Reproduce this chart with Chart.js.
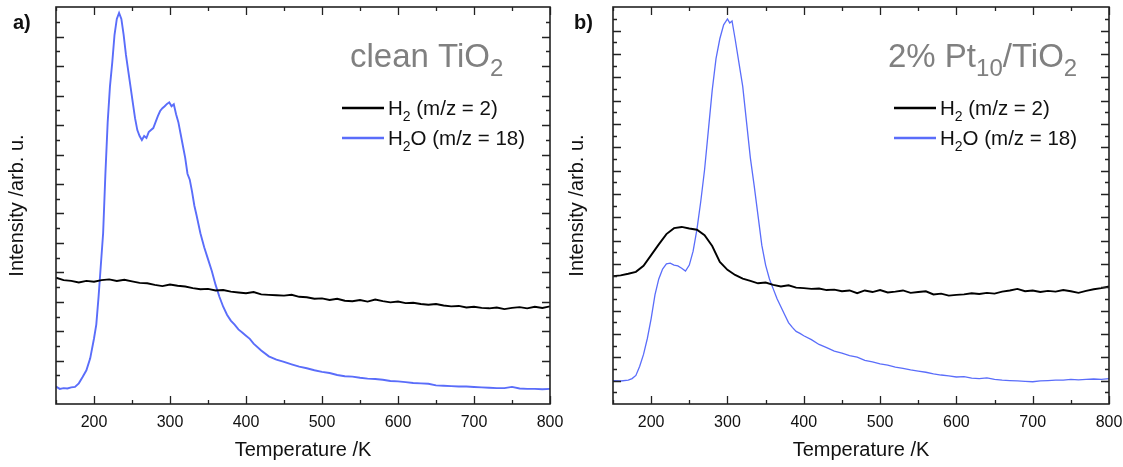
<!DOCTYPE html>
<html>
<head>
<meta charset="utf-8">
<script src="https://cdn.jsdelivr.net/npm/chart.js@4.4.1/dist/chart.umd.min.js"></script>
<style>
  html, body { margin: 0; padding: 0; background: #fff; }
  #wrap { position: relative; width: 1123px; height: 467px; }
  .panel { position: absolute; top: 0; height: 467px; }
</style>
</head>
<body>
<div id="wrap">
  <div class="panel" style="left:0;width:575px"><canvas id="chart-a"></canvas></div>
  <div class="panel" style="left:561px;width:562px"><canvas id="chart-b"></canvas></div>
</div>
<script>
// temperatures (K) for the H2 traces, 10 K apart
const temps10 = [
  150, 160, 170, 180, 190, 200, 210, 220, 230, 240,
  250, 260, 270, 280, 290, 300, 310, 320, 330, 340,
  350, 360, 370, 380, 390, 400, 410, 420, 430, 440,
  450, 460, 470, 480, 490, 500, 510, 520, 530, 540,
  550, 560, 570, 580, 590, 600, 610, 620, 630, 640,
  650, 660, 670, 680, 690, 700, 710, 720, 730, 740,
  750, 760, 770, 780, 790, 800
]

// panel a) clean TiO2, intensity in % of frame height
const aH2 = [
  31.8, 31.2, 31.0, 30.6, 31.0, 30.8, 31.2, 31.4, 31.0, 31.3,
  30.9, 30.5, 30.4, 30.0, 29.7, 30.1, 29.8, 29.6, 29.2, 28.9,
  29.0, 28.6, 28.7, 28.3, 28.1, 27.9, 28.2, 27.6, 27.5, 27.4,
  27.3, 27.5, 27.0, 26.9, 26.5, 26.6, 26.2, 26.5, 26.0, 25.9,
  26.2, 25.8, 26.3, 25.9, 25.6, 25.8, 25.4, 25.5, 25.2, 25.0,
  25.2, 24.8, 24.6, 24.7, 24.3, 24.5, 24.2, 24.1, 24.3, 23.9,
  24.2, 24.4, 24.1, 24.5, 24.2, 24.6
]
const aTempH2O = [
  150, 155, 160, 165, 170, 175, 180, 185, 190, 195, 200,
  203, 206, 209, 212, 215, 218, 221, 224, 227, 230, 233, 236, 239, 242, 245,
  248, 251, 254, 257, 260, 263, 266, 269, 272, 275, 278, 281, 284, 287, 290,
  293, 296, 299, 302, 305, 308, 311, 314, 317, 320, 323, 326, 329, 332, 335,
  340, 345, 350, 355, 360, 365, 370, 375, 380, 385, 390, 395, 400, 405, 410,
  420, 430, 440, 450, 460, 470, 480, 490, 500, 510, 520, 530, 540, 550, 560,
  570, 580, 590, 600, 610, 620, 630, 640, 650, 660, 670, 680, 690, 700, 710,
  720, 730, 740, 750, 760, 770, 780, 790, 800
]
const aH2O = [
  4.4, 3.8, 4.0, 3.9, 4.2, 4.3, 5.2, 6.8, 8.5, 11.5, 16.5,
  20, 27, 35, 43, 58, 71, 80, 86, 93, 97, 98.5, 97, 93, 88, 84,
  80, 76, 72, 69, 67.5, 66.5, 67.5, 67, 68.5, 69, 69.5, 71, 72.5, 73.8, 74.5,
  75, 75.6, 76, 75, 75.5, 73, 71, 68, 65, 62, 58, 56.5, 53.5, 50, 47.5,
  43, 39.5, 36.5, 33.5, 30, 27, 24.5, 22.5, 21, 20, 18.8, 18, 17.2, 16.4, 15.2,
  13.5, 12.0, 11.2, 10.6, 10.0, 9.4, 9.0, 8.5, 8.1, 7.8, 7.3, 7.0, 6.9, 6.6, 6.4,
  6.3, 6.1, 5.8, 5.7, 5.5, 5.3, 5.2, 5.1, 4.7, 4.6, 4.5, 4.4, 4.4, 4.3, 4.2,
  4.1, 4.0, 4.0, 4.3, 3.9, 3.8, 3.8, 3.7, 3.8
]

// panel b) 2% Pt10/TiO2
const bH2 = [
  32.2, 32.4, 32.8, 33.3, 34.8, 37.5, 40.2, 42.8, 44.3, 44.6,
  44.2, 43.9, 42.5, 39.8, 35.8, 33.8, 32.5, 31.6, 31.0, 30.4,
  30.6, 30.0, 29.6, 29.9, 29.3, 29.2, 29.0, 29.1, 28.7, 28.8,
  28.4, 28.6, 27.9, 28.6, 28.2, 28.7, 28.1, 28.3, 28.6, 28.0,
  28.2, 28.4, 27.6, 27.8, 27.3, 27.5, 27.6, 27.9, 27.7, 28.0,
  27.8, 28.3, 28.6, 29.0, 28.4, 28.6, 28.2, 28.5, 28.3, 28.7,
  28.4, 28.0, 28.5, 28.9, 29.2, 29.6
]
const bTempH2O = [
  150, 160, 170, 175, 180, 185, 190, 195, 200, 205, 210, 215, 220, 225, 230,
  235, 240, 245, 250, 255, 260, 265, 270, 275, 280, 285, 290, 295, 300, 303,
  306, 310, 315, 320, 325, 330, 335, 340, 345, 350, 355, 360, 365, 370, 375,
  380, 385, 390, 395, 400,
  410, 420, 430, 440, 450, 460, 470, 480, 490, 500,
  510, 520, 530, 540, 550, 560, 570, 580, 590, 600,
  610, 620, 630, 640, 650, 660, 670, 680, 690, 700,
  710, 720, 730, 740, 750, 760, 770, 780, 790, 800
]
const bH2O = [
  5.9, 5.8, 6.0, 6.4, 7.2, 9.5, 12.5, 16.5, 21.5, 27.5, 31.5, 34, 35.3, 35.5, 35,
  34.8, 34.2, 33.5, 35, 38.5, 44, 51, 59, 69, 79, 87, 92, 95.5, 97, 96,
  96.5, 92, 86, 80, 71, 62, 55, 47.5, 40, 35, 31.5, 29, 26.5, 24.5, 22.5,
  20.5, 19.3, 18.3, 17.8, 17.2,
  16.2, 15.0, 14.2, 13.3, 12.8, 12.2, 11.8, 11.0, 10.6, 10.1,
  9.8, 9.3, 9.0, 8.6, 8.3, 8.0, 7.6, 7.3, 7.1, 6.8,
  6.9, 6.5, 6.4, 6.6, 6.2, 6.0, 5.9, 5.8, 5.7, 5.6,
  5.8, 5.9, 6.0, 6.0, 6.2, 6.1, 6.2, 6.3, 6.2, 6.4
]

// tick values
const xTickLabels = [200, 300, 400, 500, 600, 700, 800]
const xMinorTicks = [150, 250, 350, 450, 550, 650, 750]
// y ticks (no labels): first tick, spacing, count; every second one is major
const aYTicks = { first: 7.19, step: 3.71, count: 25 }
const bYTicks = { first: 2.93, step: 2.94, count: 33 }

const FONT = '"Liberation Sans", Arial, Helvetica, sans-serif'
const BLUE = '#5a6dfa'

function toPoints(xs, ys) {
  return xs.map((x, i) => ({ x: x, y: ys[i] }))
}

// text with subscripts, parts = [[text, isSub], ...]
function drawRich(ctx, parts, x, y, size, color, subScale) {
  ctx.fillStyle = color
  ctx.textBaseline = 'alphabetic'
  ctx.textAlign = 'left'
  parts.forEach(([t, sub]) => {
    const s = sub ? Math.round(size * subScale) : size
    ctx.font = `${s}px ${FONT}`
    ctx.fillText(t, x, sub ? y + size * 0.27 : y)
    x += ctx.measureText(t).width
  })
}

const framePlugin = {
  id: 'frame',
  afterDraw(chart) {
    const { ctx, chartArea: a, scales } = chart
    const cfg = chart.options.plugins.frame
    ctx.save()
    // inward ticks on all four sides
    ctx.strokeStyle = '#222'
    ctx.lineWidth = 1.3
    ctx.beginPath()
    const yt = cfg.yTicks
    for (let i = 0; i < yt.count; i++) {
      const v = yt.first + i * yt.step
      const py = Math.round(scales.y.getPixelForValue(v)) + 0.5
      const len = i % 2 === 1 ? 8 : 4
      ctx.moveTo(a.left, py); ctx.lineTo(a.left + len, py)
      ctx.moveTo(a.right, py); ctx.lineTo(a.right - len, py)
    }
    xTickLabels.concat(xMinorTicks).forEach((v) => {
      const px = Math.round(scales.x.getPixelForValue(v)) + 0.5
      const len = xTickLabels.includes(v) ? 8 : 4
      ctx.moveTo(px, a.bottom); ctx.lineTo(px, a.bottom - len)
      ctx.moveTo(px, a.top); ctx.lineTo(px, a.top + len)
    })
    ctx.stroke()
    ctx.lineWidth = 1.6
    ctx.strokeRect(a.left, a.top, a.right - a.left, a.bottom - a.top)

    // panel letter and sample name
    ctx.fillStyle = '#111'
    ctx.font = `bold 20px ${FONT}`
    ctx.textBaseline = 'alphabetic'
    ctx.fillText(cfg.letter, 13, 29)
    drawRich(ctx, cfg.name, cfg.nameX, 67, 33, '#808080', 0.72)

    // legend
    chart.data.datasets.forEach((ds, i) => {
      const ly = 108 + i * 30
      ctx.strokeStyle = ds.borderColor
      ctx.lineWidth = 2.5
      ctx.beginPath()
      ctx.moveTo(cfg.legendX, ly)
      ctx.lineTo(cfg.legendX + 42, ly)
      ctx.stroke()
      drawRich(ctx, ds.richLabel, cfg.legendX + 46, ly + 7, 20.5, '#111', 0.68)
    })
    ctx.restore()
  }
}

function makePanel(id, p) {
  const ctx = document.getElementById(id).getContext('2d')
  return new Chart(ctx, {
    type: 'line',
    data: {
      datasets: [
        {
          label: 'H2 (m/z = 2)',
          richLabel: [['H', false], ['2', true], [' (m/z = 2)', false]],
          data: toPoints(temps10, p.h2),
          borderColor: '#000',
          borderWidth: 1.9,
          pointRadius: 0,
          tension: 0
        },
        {
          label: 'H2O (m/z = 18)',
          richLabel: [['H', false], ['2', true], ['O (m/z = 18)', false]],
          data: toPoints(p.tempH2O, p.h2o),
          borderColor: BLUE,
          borderWidth: p.blueWidth,
          pointRadius: 0,
          tension: 0
        }
      ]
    },
    options: {
      responsive: true,
      maintainAspectRatio: false,
      animation: false,
      layout: { autoPadding: false, padding: { left: 0, right: p.padRight, top: 7, bottom: 5 } },
      plugins: {
        legend: { display: false },
        tooltip: { enabled: false },
        frame: p.frame
      },
      scales: {
        x: {
          type: 'linear',
          min: 150,
          max: 800,
          afterBuildTicks: (scale) => { scale.ticks = xTickLabels.map((v) => ({ value: v })) },
          afterFit: (scale) => {
            scale.height = 58
            scale.paddingLeft = 0
            scale.paddingRight = 0
          },
          grid: { display: false, drawTicks: false },
          border: { display: false },
          ticks: { color: '#111', padding: 9, font: { family: FONT, size: 16 }, maxRotation: 0 },
          title: { display: true, text: 'Temperature /K', color: '#111', padding: { top: 0, bottom: 0 }, font: { family: FONT, size: 20 } }
        },
        y: {
          min: 0,
          max: 100,
          afterFit: (scale) => { scale.width = p.yWidth },
          grid: { display: false, drawTicks: false },
          border: { display: false },
          ticks: { display: false },
          title: { display: true, text: 'Intensity /arb. u.', color: '#111', padding: { top: p.yTitleTop, bottom: 0 }, font: { family: FONT, size: 20 } }
        }
      }
    },
    plugins: [framePlugin]
  })
}

makePanel('chart-a', {
  h2: aH2, tempH2O: aTempH2O, h2o: aH2O, blueWidth: 1.9,
  padRight: 25, yWidth: 56, yTitleTop: 5,
  frame: {
    letter: 'a)', yTicks: aYTicks, legendX: 342, nameX: 350,
    name: [['clean TiO', false], ['2', true]]
  }
})

makePanel('chart-b', {
  h2: bH2, tempH2O: bTempH2O, h2o: bH2O, blueWidth: 1.3,
  padRight: 14, yWidth: 52, yTitleTop: 4,
  frame: {
    letter: 'b)', yTicks: bYTicks, legendX: 333, nameX: 327,
    name: [['2% Pt', false], ['10', true], ['/TiO', false], ['2', true]]
  }
})
</script>
</body>
</html>
